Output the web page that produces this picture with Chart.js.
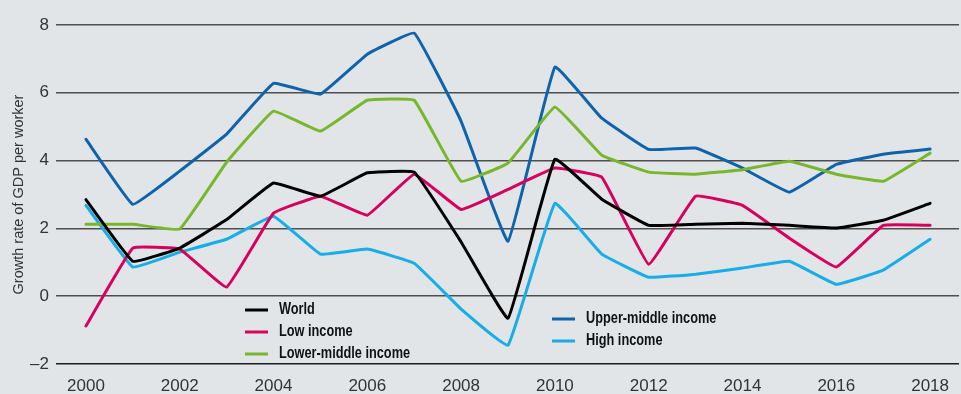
<!DOCTYPE html>
<html>
<head>
<meta charset="utf-8">
<script src="https://cdn.jsdelivr.net/npm/chart.js@4/dist/chart.umd.min.js"></script>
<style>
  html, body { margin: 0; padding: 0; background: #e2e5e7; }
  #wrap { width: 961px; height: 394px; position: relative; }
</style>
</head>
<body>
<div id="wrap"><canvas id="gdp"></canvas></div>
<script>
// Growth rate of GDP per worker, by income group
const YEARS = [2000, 2001, 2002, 2003, 2004, 2005, 2006, 2007, 2008, 2009,
  2010, 2011, 2012, 2013, 2014, 2015, 2016, 2017, 2018];
const YEAR_TICKS = [2000, 2002, 2004, 2006, 2008, 2010, 2012, 2014, 2016, 2018];
const Y_TICKS = [-2, 0, 2, 4, 6, 8];

const SERIES_NAMES = ['World', 'Low income', 'Lower-middle income', 'Upper-middle income', 'High income'];

const WORLD = [2.85, 1.03, 1.42, 2.26, 3.34, 2.95, 3.64, 3.66, 1.6, -0.65,
  4.04, 2.86, 2.09, 2.12, 2.15, 2.09, 2.01, 2.24, 2.74];
const LOW_INCOME = [-0.88, 1.42, 1.39, 0.27, 2.45, 2.95, 2.39, 3.6, 2.56, 3.15,
  3.78, 3.51, 0.94, 2.95, 2.68, 1.71, 0.86, 2.09, 2.09];
const LOWER_MIDDLE = [2.12, 2.12, 1.98, 3.95, 5.46, 4.87, 5.78, 5.78, 3.39, 3.93,
  5.58, 4.16, 3.66, 3.6, 3.73, 3.98, 3.6, 3.39, 4.22];
const UPPER_MIDDLE = [4.63, 2.71, 3.69, 4.78, 6.28, 5.96, 7.14, 7.76, 5.16, 1.62,
  6.76, 5.25, 4.33, 4.37, 3.78, 3.07, 3.89, 4.19, 4.34];
const HIGH_INCOME = [2.68, 0.86, 1.3, 1.68, 2.36, 1.24, 1.39, 0.97, -0.38, -1.45,
  2.74, 1.24, 0.56, 0.65, 0.83, 1.03, 0.35, 0.77, 1.68];

const COLORS = ['#000000', '#d7005d', '#78b72c', '#0e63ad', '#17ade6'];

// legend slots: [line start x, row centre y]
const LEGEND_SLOTS = [[245, 309], [245, 331], [245, 353], [552, 318], [552, 340]];

const seriesValues = [WORLD, LOW_INCOME, LOWER_MIDDLE, UPPER_MIDDLE, HIGH_INCOME];

const legendPlugin = {
  id: 'sideLegend',
  afterDatasetsDraw(chart) {
    const ctx = chart.ctx;
    ctx.save();
    chart.data.datasets.forEach((ds, i) => {
      const [x, y] = LEGEND_SLOTS[i];
      ctx.strokeStyle = ds.borderColor;
      ctx.lineWidth = 3;
      ctx.lineCap = 'butt';
      ctx.beginPath();
      ctx.moveTo(x, y + 1);
      ctx.lineTo(x + 23, y + 1);
      ctx.stroke();
      // condensed bold label
      ctx.save();
      ctx.translate(x + 34, y);
      ctx.scale(0.75, 1);
      ctx.font = 'bold 17px "Liberation Sans", Arial, sans-serif';
      ctx.fillStyle = '#111';
      ctx.textBaseline = 'middle';
      ctx.textAlign = 'left';
      ctx.fillText(ds.label, 0, 0);
      ctx.restore();
    });
    ctx.restore();
  }
};

const ctx = document.getElementById('gdp').getContext('2d');
new Chart(ctx, {
  type: 'line',
  data: {
    datasets: seriesValues.map((vals, i) => ({
      label: SERIES_NAMES[i],
      data: vals.map((v, j) => ({ x: YEARS[j], y: v })),
      borderColor: COLORS[i],
      backgroundColor: COLORS[i],
      borderWidth: 3,
      borderJoinStyle: 'round',
      borderCapStyle: 'round',
      pointRadius: 0,
      tension: 0.08,
    })),
  },
  options: {
    responsive: true,
    maintainAspectRatio: false,
    animation: false,
    layout: { padding: { top: 25, right: 0, bottom: 0, left: 0 } },
    plugins: {
      legend: { display: false },
      tooltip: { enabled: false },
    },
    scales: {
      x: {
        type: 'linear',
        min: 2000 - 30 / 47,
        max: 2018 + 29 / 47,
        afterBuildTicks: (scale) => { scale.ticks = YEAR_TICKS.map(value => ({ value })); },
        afterFit: (scale) => { scale.height = 30; },
        grid: { display: false, drawTicks: false },
        border: { display: false },
        ticks: {
          padding: 12,
          autoSkip: false,
          maxRotation: 0,
          color: '#333',
          font: { family: '"Liberation Sans", Arial, sans-serif', size: 17 },
          callback: (v) => String(v),
        },
      },
      y: {
        min: -2,
        max: 8,
        afterBuildTicks: (scale) => { scale.ticks = Y_TICKS.map(value => ({ value })); },
        afterFit: (scale) => { scale.width = 56; },
        border: { display: false },
        grid: {
          drawTicks: false,
          lineWidth: 1.5,
          color: (c) => (c.tick && c.tick.value === -2 ? '#1e1e1e' : '#4e4e4e'),
        },
        ticks: {
          padding: 7,
          color: '#333',
          font: { family: '"Liberation Sans", Arial, sans-serif', size: 17 },
          callback: (v) => (v < 0 ? '\u2013' + Math.abs(v) : String(v)),
        },
        title: {
          display: true,
          text: 'Growth rate of GDP per worker',
          color: '#333',
          padding: { top: 10, bottom: 0 },
          font: { family: '"Liberation Sans", Arial, sans-serif', size: 14.5 },
        },
      },
    },
  },
  plugins: [legendPlugin],
});
</script>
</body>
</html>
